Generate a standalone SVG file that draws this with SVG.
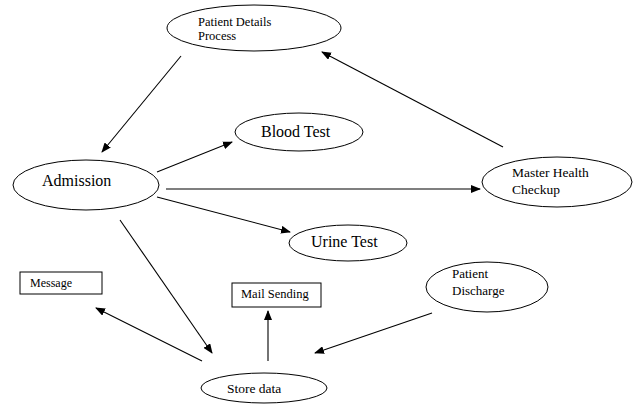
<svg xmlns="http://www.w3.org/2000/svg" width="636" height="406" viewBox="0 0 636 406">
<style>
  .n { fill: #fff; stroke: #000; stroke-width: 1; }
  .t { font-family: "Liberation Serif", "Times New Roman", serif; fill: #000; }
  .c line { stroke: #000; stroke-width: 1.1; }
</style>
<defs>
  <marker id="ah" markerWidth="10" markerHeight="8" refX="9" refY="4" orient="auto" markerUnits="userSpaceOnUse">
    <path d="M0,0 L10,4 L0,8 Z" fill="#000"/>
  </marker>
</defs>
<rect width="636" height="406" fill="#fff"/>
<g id="connectors" class="c">
  <line x1="181" y1="56" x2="102" y2="152" marker-end="url(#ah)"/>
  <line x1="503" y1="147" x2="322" y2="52" marker-end="url(#ah)"/>
  <line x1="157" y1="172" x2="232" y2="142" marker-end="url(#ah)"/>
  <line x1="166" y1="189" x2="480" y2="189" marker-end="url(#ah)"/>
  <line x1="157" y1="197" x2="290" y2="232" marker-end="url(#ah)"/>
  <line x1="120" y1="220" x2="212" y2="353" marker-end="url(#ah)"/>
  <line x1="202" y1="361" x2="96" y2="308" marker-end="url(#ah)"/>
  <line x1="268" y1="361" x2="268" y2="311" marker-end="url(#ah)"/>
  <line x1="432" y1="313" x2="315" y2="353" marker-end="url(#ah)"/>
</g>
<g id="patient-details">
  <ellipse class="n" cx="254" cy="28" rx="87" ry="23"/>
  <text class="t" x="198" y="26" font-size="12.5">Patient Details</text>
  <text class="t" x="198" y="40" font-size="12.5">Process</text>
</g>
<g id="admission">
  <ellipse class="n" cx="86" cy="185" rx="73" ry="25"/>
  <text class="t" x="42" y="186" font-size="16">Admission</text>
</g>
<g id="blood-test">
  <ellipse class="n" cx="299" cy="132" rx="64" ry="19"/>
  <text class="t" x="261" y="137" font-size="16">Blood Test</text>
</g>
<g id="master-health">
  <ellipse class="n" cx="557" cy="182" rx="75" ry="25"/>
  <text class="t" x="512" y="177" font-size="13.5">Master Health</text>
  <text class="t" x="512" y="194" font-size="13.5">Checkup</text>
</g>
<g id="urine-test">
  <ellipse class="n" cx="348" cy="243" rx="59" ry="18"/>
  <text class="t" x="311" y="247" font-size="16">Urine Test</text>
</g>
<g id="message">
  <rect class="n" x="20" y="272" width="82" height="22"/>
  <text class="t" x="30" y="287" font-size="12">Message</text>
</g>
<g id="mail-sending">
  <rect class="n" x="232" y="283" width="89" height="24"/>
  <text class="t" x="241" y="298" font-size="12.5">Mail Sending</text>
</g>
<g id="patient-discharge">
  <ellipse class="n" cx="487" cy="287" rx="61" ry="25"/>
  <text class="t" x="452" y="278" font-size="13">Patient</text>
  <text class="t" x="452" y="295" font-size="13">Discharge</text>
</g>
<g id="store-data">
  <ellipse class="n" cx="264" cy="388" rx="63" ry="15"/>
  <text class="t" x="227" y="393" font-size="13.5">Store data</text>
</g>
</svg>
